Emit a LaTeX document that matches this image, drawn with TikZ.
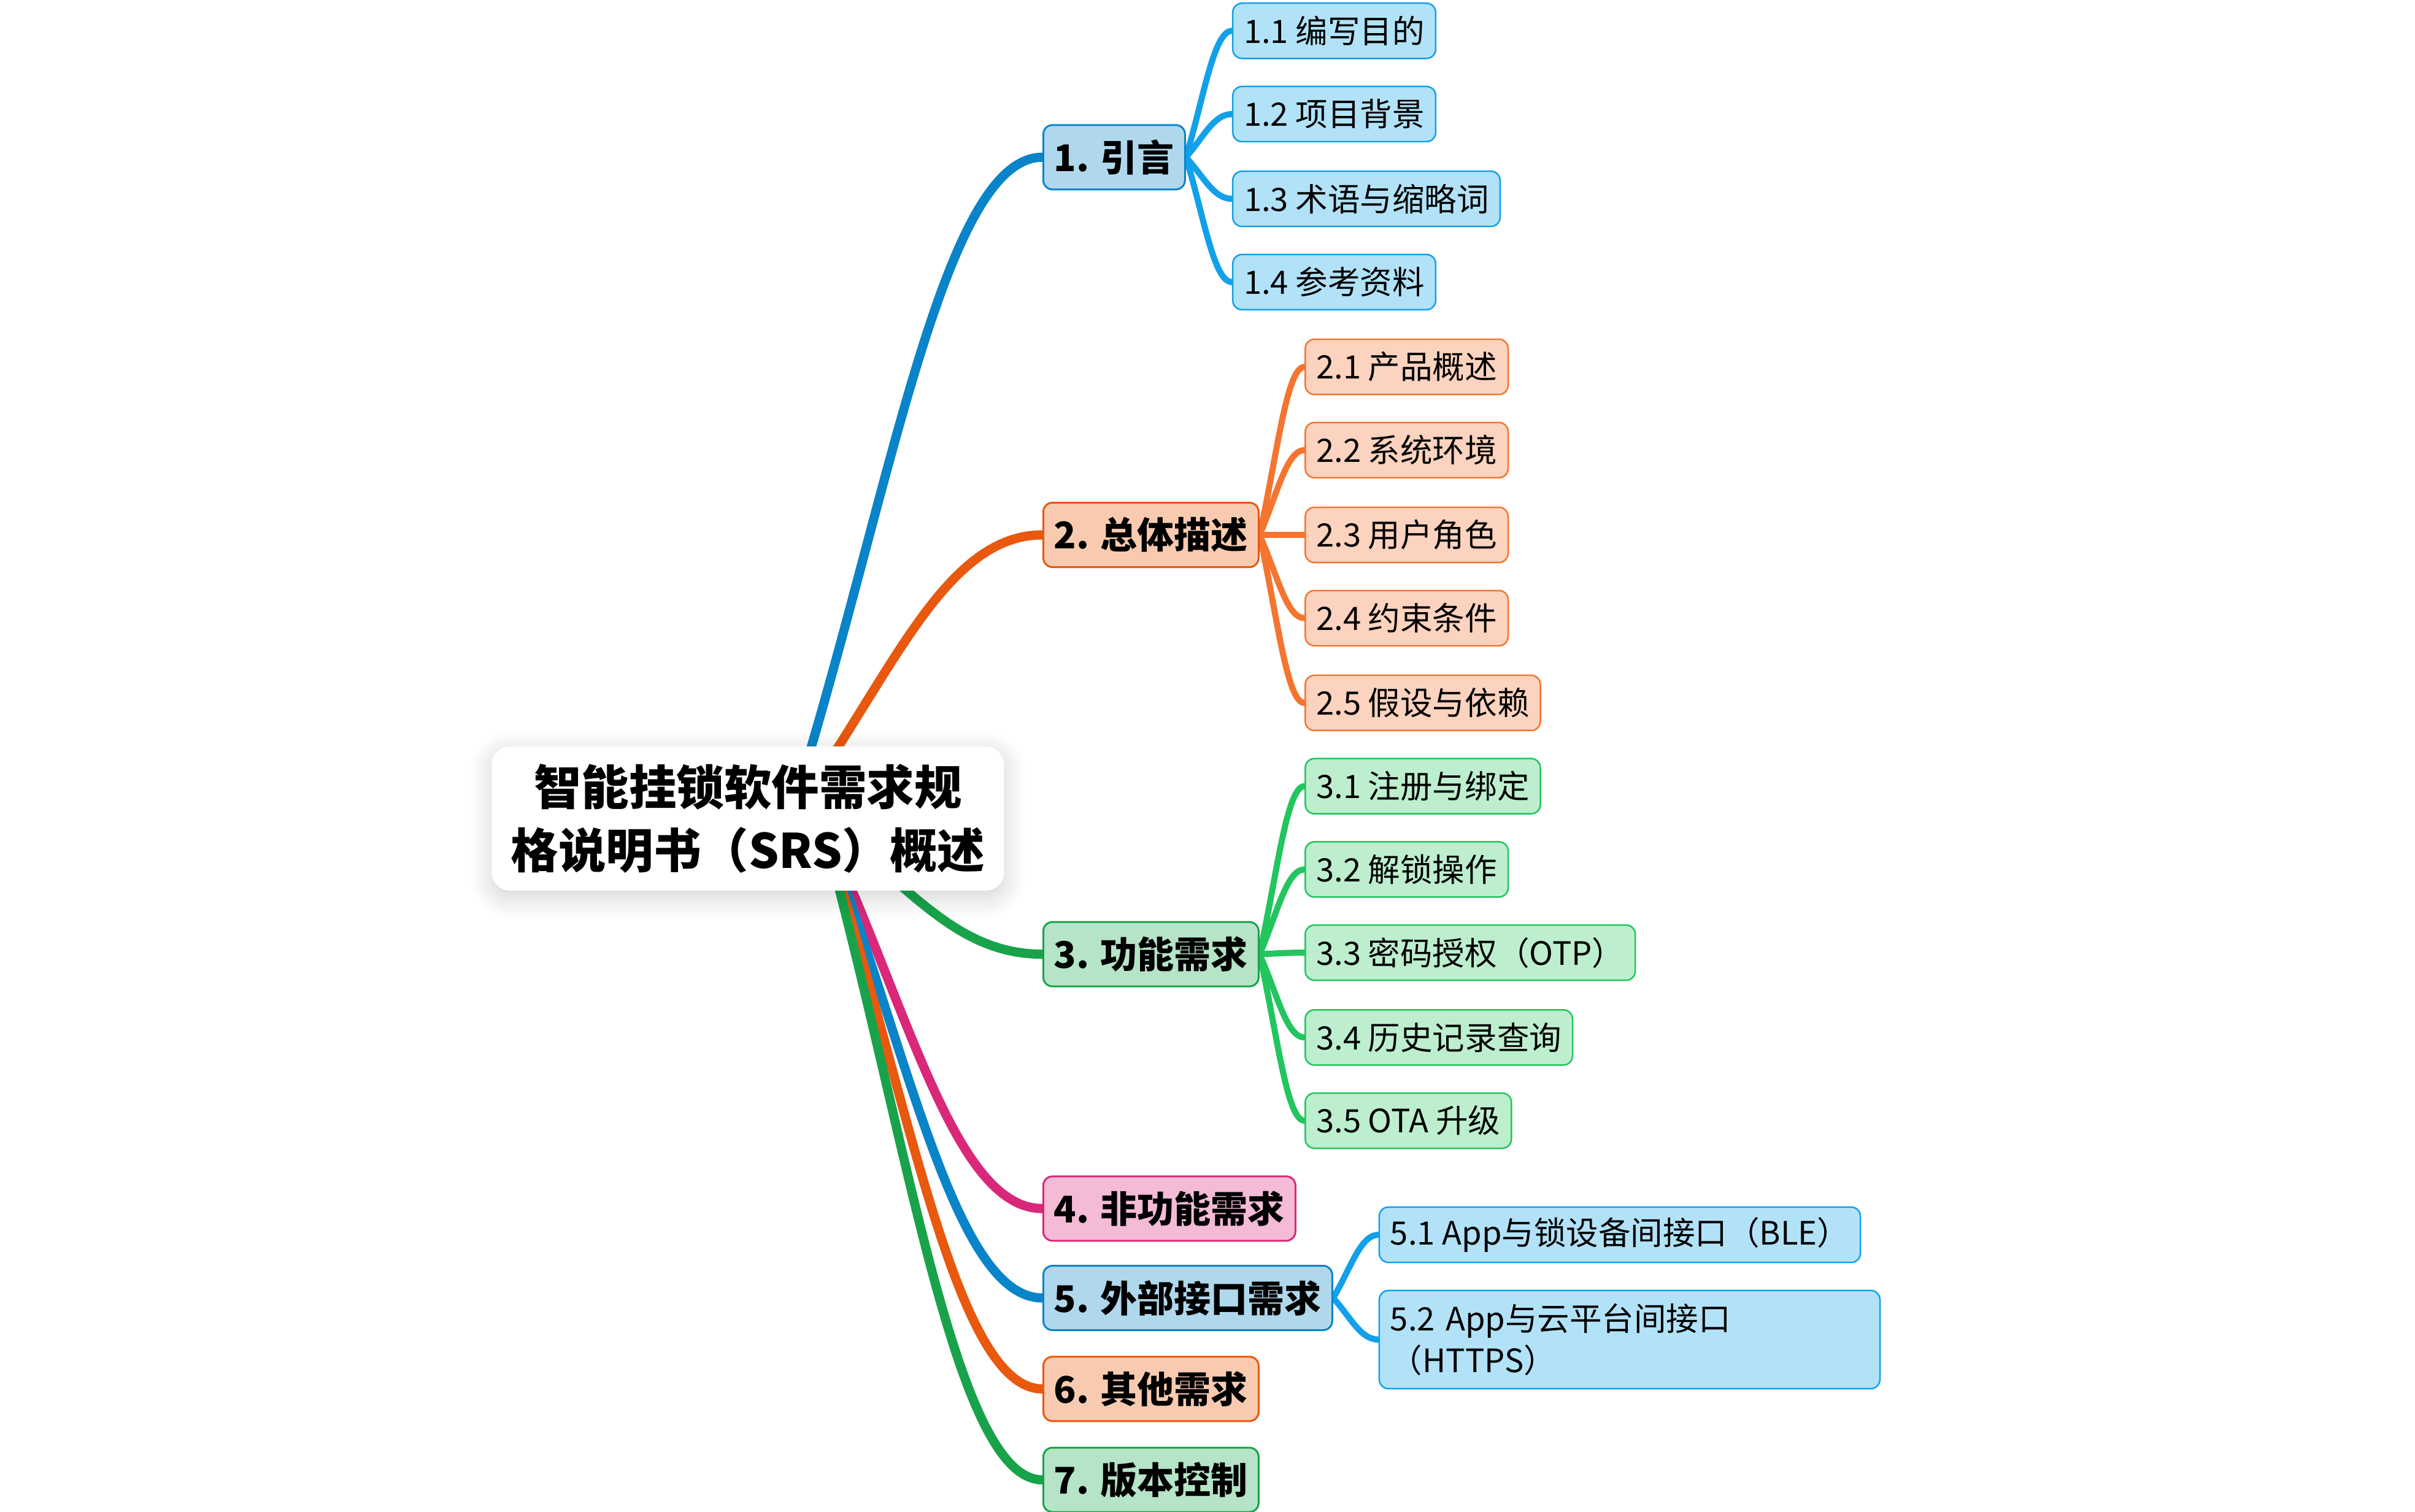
\documentclass[tikz,border=0pt]{standalone}
\usepackage{fontspec}
\setmainfont{Noto Sans CJK SC}
\usepackage{tikz}
\usetikzlibrary{calc,backgrounds,shadows.blur}
\definecolor{bluemain}{HTML}{0A84C8}
\definecolor{bluetop}{HTML}{B0D8EC}
\definecolor{bluesub}{HTML}{12A0EA}
\definecolor{bluesubfill}{HTML}{B2E2F8}
\definecolor{orangemain}{HTML}{E8580E}
\definecolor{orangetop}{HTML}{F8CBB0}
\definecolor{orangesub}{HTML}{F47530}
\definecolor{orangesubfill}{HTML}{FBD3BE}
\definecolor{greenmain}{HTML}{18A34A}
\definecolor{greentop}{HTML}{B5E4C6}
\definecolor{greensub}{HTML}{22C55E}
\definecolor{greensubfill}{HTML}{BDEFCF}
\definecolor{pinkmain}{HTML}{D9287A}
\definecolor{pinktop}{HTML}{F3BBD6}
\tikzstyle{root}=[fill=white,rounded corners=6pt,minimum width=167pt,minimum height=47pt,align=center,
  font=\bfseries\fontsize{15.5}{20.6}\selectfont,
  blur shadow={shadow blur steps=8,shadow xshift=0pt,shadow yshift=-2pt,shadow blur radius=7pt,shadow opacity=18}]
\tikzstyle{topic}=[draw,rounded corners=3pt,line width=0.6pt,anchor=west,inner xsep=3.5pt,minimum height=21pt,
  font=\bfseries\fontsize{12}{15}\selectfont]
\tikzstyle{subtopic}=[draw,rounded corners=3pt,line width=0.5pt,anchor=west,inner xsep=3.6pt,minimum height=18pt,
  font=\fontsize{10.5}{13.6}\selectfont]
\tikzstyle{mainline}=[line width=3pt,line cap=round]
\tikzstyle{subline}=[line width=2pt,line cap=round]
\tikzset{branch/.style={to path={let \p1=(\tikztostart), \p2=(\tikztotarget) in
  .. controls ({\x1+0.39*(\x2-\x1)},{\y1+0.47*(\y2-\y1)}) and ({\x2-0.4*(\x2-\x1)},\y2) .. (\tikztotarget)}}}

\begin{document}
\begin{tikzpicture}[x=0.5026pt,y=-0.5026pt]
\useasboundingbox (0,0) rectangle (1566.2,980.5);
\node [root] (root) at (485,531) {智能挂锁软件需求规\\格说明书（SRS）概述};
\coordinate (hubup) at (512,531);
\coordinate (hubdn) at (532,531);
% main topics
\node [topic,draw=bluemain,fill=bluetop] (intro) at (676,102) {1. 引言};
\node [topic,draw=orangemain,fill=orangetop] (overall) at (676,347) {2. 总体描述};
\node [topic,draw=greenmain,fill=greentop] (func) at (676,619) {3. 功能需求};
\node [topic,draw=pinkmain,fill=pinktop] (nonfunc) at (676,784) {4. 非功能需求};
\node [topic,draw=bluemain,fill=bluetop] (iface) at (676,842) {5. 外部接口需求};
\node [topic,draw=orangemain,fill=orangetop] (other) at (676,901) {6. 其他需求};
\node [topic,draw=greenmain,fill=greentop] (version) at (676,960) {7. 版本控制};
% subtopics
\node [subtopic,draw=bluesub,fill=bluesubfill] (intro1) at (799,20) {1.1 编写目的};
\node [subtopic,draw=bluesub,fill=bluesubfill] (intro2) at (799,74) {1.2 项目背景};
\node [subtopic,draw=bluesub,fill=bluesubfill] (intro3) at (799,129) {1.3 术语与缩略词};
\node [subtopic,draw=bluesub,fill=bluesubfill] (intro4) at (799,183) {1.4 参考资料};
\node [subtopic,draw=orangesub,fill=orangesubfill] (overall1) at (846,238) {2.1 产品概述};
\node [subtopic,draw=orangesub,fill=orangesubfill] (overall2) at (846,292) {2.2 系统环境};
\node [subtopic,draw=orangesub,fill=orangesubfill] (overall3) at (846,347) {2.3 用户角色};
\node [subtopic,draw=orangesub,fill=orangesubfill] (overall4) at (846,401) {2.4 约束条件};
\node [subtopic,draw=orangesub,fill=orangesubfill] (overall5) at (846,456) {2.5 假设与依赖};
\node [subtopic,draw=greensub,fill=greensubfill] (func1) at (846,510) {3.1 注册与绑定};
\node [subtopic,draw=greensub,fill=greensubfill] (func2) at (846,564) {3.2 解锁操作};
\node [subtopic,draw=greensub,fill=greensubfill] (func3) at (846,618) {3.3 密码授权（OTP）};
\node [subtopic,draw=greensub,fill=greensubfill] (func4) at (846,673) {3.4 历史记录查询};
\node [subtopic,draw=greensub,fill=greensubfill] (func5) at (846,727) {3.5 OTA 升级};
\node [subtopic,draw=bluesub,fill=bluesubfill] (iface1) at (894,801) {5.1 App与锁设备间接口（BLE）};
\node [subtopic,draw=bluesub,fill=bluesubfill,text width=156pt,align=left,minimum height=32pt] (iface2) at (894,869)
  {5.2 App与云平台间接口\\（HTTPS）};
\begin{scope}[on background layer]
\draw [mainline,bluemain] (hubup) to[branch] (intro.west);
\draw [mainline,orangemain] (hubup) to[branch] (overall.west);
\draw [mainline,greenmain] (hubdn) to[branch] (func.west);
\draw [mainline,pinkmain] (hubdn) to[branch] (nonfunc.west);
\draw [mainline,bluemain] (hubdn) to[branch] (iface.west);
\draw [mainline,orangemain] (hubdn) to[branch] (other.west);
\draw [mainline,greenmain] (hubdn) to[branch] (version.west);
\foreach \i in {1,...,4}
  \draw [subline,bluesub] (intro.east) to[branch] (intro\i.west);
\foreach \i in {1,...,5}
  \draw [subline,orangesub] (overall.east) to[branch] (overall\i.west);
\foreach \i in {1,...,5}
  \draw [subline,greensub] (func.east) to[branch] (func\i.west);
\foreach \i in {1,2}
  \draw [subline,bluesub] (iface.east) to[branch] (iface\i.west);
\end{scope}
\end{tikzpicture}
\end{document}
